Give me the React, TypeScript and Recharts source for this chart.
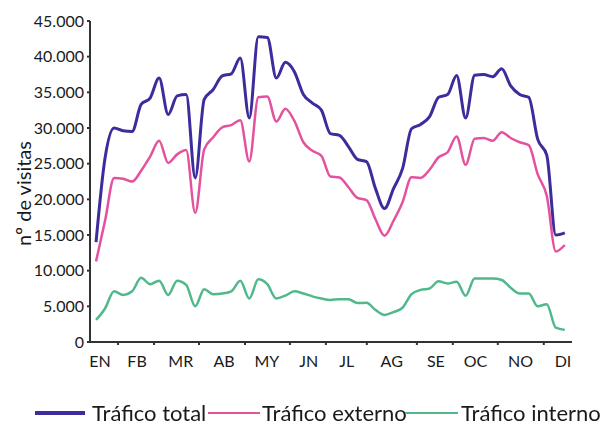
import { Legend, Line, LineChart, XAxis, YAxis } from "recharts";

// weekly visits, week 0 = first week of January
const TOTAL = [
  14000, 25800, 30000, 29600, 29500, 33300, 34200, 37000, 31900, 34500, 34700, 23000, 34000,
  35400, 37300, 37600, 39800, 31400, 42800, 42700, 37000, 39200, 37900, 34700, 33500, 32500,
  29200, 28970, 27400, 25600, 25300, 21500, 18700, 21500, 24300, 29900, 30500, 31600, 34300,
  34700, 37350, 31400, 37400, 37500, 37200, 38300, 35900, 34700, 34300, 28400, 26200, 15000,
  15300,
];
const EXTERNAL = [
  11300, 17000, 23000, 22900, 22500, 24000, 26000, 28200, 25100, 26300, 26900, 18100, 27000,
  28700, 30100, 30400, 31100, 25300, 34300, 34400, 30900, 32700, 31000, 28000, 26800, 26100,
  23200, 23070, 21700, 20200, 19900, 17200, 14900, 17000, 19600, 23100, 23000, 24150, 25900,
  26600, 28800, 24850, 28500, 28600, 28200, 29400, 28600, 28000, 27600, 23500, 20500, 12700,
  13600,
];
const INTERNAL = [
  3100, 4700, 7100, 6600, 7100, 9000, 8100, 8600, 6600, 8600, 8000, 5000, 7400, 6700, 6800,
  7100, 8600, 6100, 8800, 8100, 6100, 6500, 7100, 6800, 6400, 6100, 5900, 6000, 6000, 5450,
  5500, 4500, 3800, 4200, 4800, 6700, 7300, 7500, 8500, 8200, 8450, 6500, 8900, 8900, 8900,
  8700, 7600, 6800, 6800, 5000, 5300, 2000, 1700,
];

const MONTHS = ["EN", "FB", "MR", "AB", "MY", "JN", "JL", "AG", "SE", "OC", "NO", "DI"];
const MONTH_CENTERS = [0.44, 4.55, 9.4, 14.2, 18.96, 23.6, 27.8, 32.8, 37.7, 42.1, 47.1, 51.8];
const MONTH_BOUNDS = [-0.67, 2.44, 6.43, 11.42, 16.52, 21.51, 25.5, 30.04, 35.59, 39.58, 44.57, 49.67];
const Y_TICKS = [0, 5000, 10000, 15000, 20000, 25000, 30000, 35000, 40000, 45000];

const SERIES = [
  { key: "interno", name: "Tráfico interno", color: "#50b98b", width: 2.5 },
  { key: "externo", name: "Tráfico externo", color: "#e4529e", width: 2.5 },
  { key: "total", name: "Tráfico total", color: "#3d2c9c", width: 3 },
];

const FONT = "Lato, 'Open Sans', sans-serif";
const INK = "#1a1a1a";

const data = TOTAL.map((t, i) => ({
  week: i,
  total: t,
  externo: EXTERNAL[i],
  interno: INTERNAL[i],
}));

const X_TICKS = [...MONTH_BOUNDS, ...MONTH_CENTERS].sort((a, b) => a - b);

const fmt = (v: number) => (v === 0 ? "0" : `${v / 1000}.000`);

function MonthTick({ x, y, payload }: any) {
  const v = payload.value;
  const m = MONTH_CENTERS.indexOf(v);
  if (m < 0) {
    if (v === MONTH_BOUNDS[0]) return <g />;
    return <line x1={x} x2={x} y1={y} y2={y + 3} stroke="#333" strokeWidth={2} />;
  }
  return (
    <text x={x} y={y + 25} textAnchor="middle" fontSize={16} fontFamily={FONT} fill={INK}>
      {MONTHS[m]}
    </text>
  );
}

function LegendRow() {
  const items = [
    { name: "Tráfico total", color: "#3d2c9c", left: 35, line: 50, thick: 4, text: 92 },
    { name: "Tráfico externo", color: "#e4529e", left: 208, line: 52, thick: 2, text: 262 },
    { name: "Tráfico interno", color: "#50b98b", left: 405, line: 53, thick: 2, text: 461 },
  ];
  return (
    <div style={{ position: "relative", width: 607, height: 30, fontFamily: FONT }}>
      {items.map((it) => (
        <div key={it.name}>
          <span
            style={{
              position: "absolute",
              left: it.left,
              top: 26 - it.thick / 2,
              width: it.line,
              height: it.thick,
              background: it.color,
            }}
          />
          <span
            style={{
              position: "absolute",
              left: it.text,
              top: 11,
              height: 30,
              lineHeight: "30px",
              fontSize: 22,
              color: INK,
              whiteSpace: "nowrap",
            }}
          >
            {it.name}
          </span>
        </div>
      ))}
    </div>
  );
}

export default function App() {
  return (
    <div style={{ position: "fixed", left: 0, top: 0, width: 607, height: 425, background: "#fff" }}>
      <LineChart width={607} height={425} data={data} margin={{ top: 21, right: 35, left: 0, bottom: 8 }}>
        <XAxis
          type="number"
          dataKey="week"
          domain={[-0.67, 52.8]}
          ticks={X_TICKS}
          interval={0}
          tick={<MonthTick />}
          tickSize={0}
          tickMargin={0}
          height={45}
          axisLine={{ stroke: "#333", strokeWidth: 2 }}
          tickLine={false}
        />
        <YAxis
          width={90}
          domain={[0, 45000]}
          ticks={Y_TICKS}
          interval={0}
          tickFormatter={fmt}
          tick={{ fill: INK, fontSize: 16, fontFamily: FONT }}
          tickSize={3}
          tickMargin={3}
          axisLine={{ stroke: "#333", strokeWidth: 2 }}
          tickLine={{ stroke: "#333", strokeWidth: 2 }}
          label={({ viewBox }: any) => {
            const x = viewBox.x + 23;
            const y = viewBox.y + viewBox.height / 2 + 12;
            return (
              <text
                x={x}
                y={y}
                transform={`rotate(-90 ${x} ${y})`}
                textAnchor="middle"
                dominantBaseline="central"
                fontSize={20}
                fontFamily={FONT}
                fill={INK}
              >
                nº de visitas
              </text>
            );
          }}
        />
        <Legend
          verticalAlign="bottom"
          content={() => <LegendRow />}
          wrapperStyle={{ left: 0, width: 607, height: 30 }}
        />
        {SERIES.map((s) => (
          <Line
            key={s.key}
            type="monotone"
            dataKey={s.key}
            name={s.name}
            stroke={s.color}
            strokeWidth={s.width}
            dot={false}
            isAnimationActive={false}
          />
        ))}
      </LineChart>
    </div>
  );
}
